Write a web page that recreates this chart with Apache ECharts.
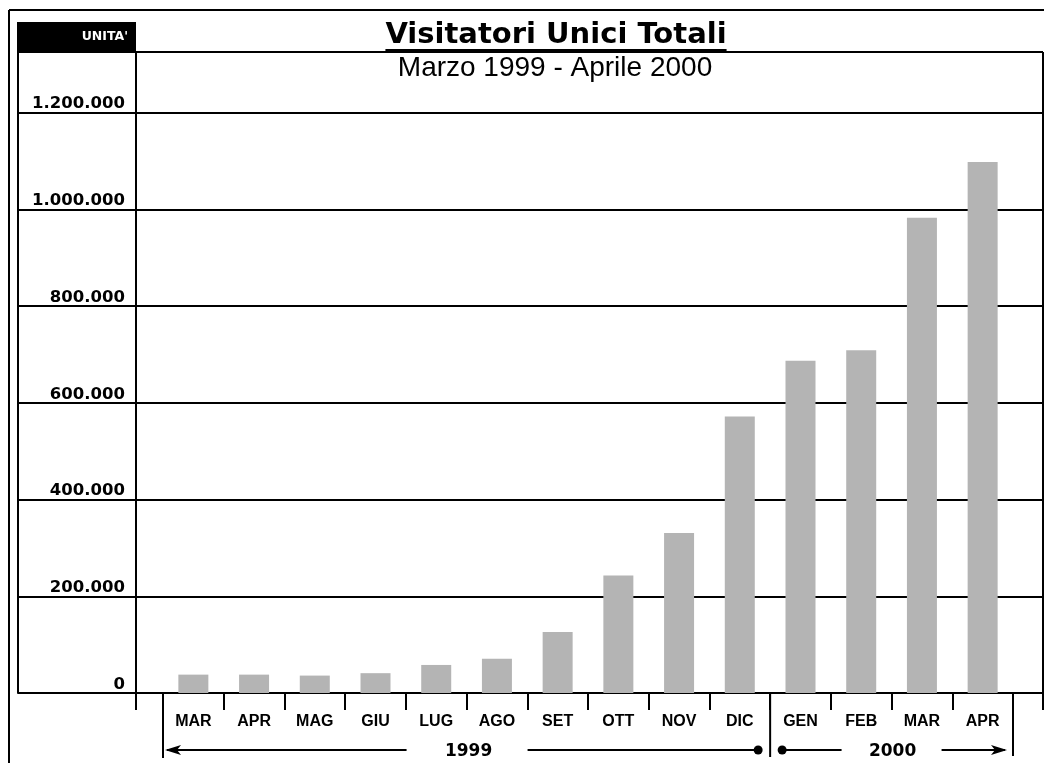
<!DOCTYPE html>
<html><head><meta charset="utf-8">
<script src="https://cdn.jsdelivr.net/npm/echarts@6/dist/echarts.min.js"></script>
<style>html,body{margin:0;padding:0;background:#fff}#c{width:1044px;height:763px}</style>
</head><body><div id="c"></div>
<script>
// ---- data ----
const months = ['MAR','APR','MAG','GIU','LUG','AGO','SET','OTT','NOV','DIC','GEN','FEB','MAR','APR'];
const visitors = [38000, 38000, 36000, 41000, 58000, 71000, 126000, 243000, 331000, 572000, 687000, 709000, 983000, 1098000];
const years = ['1999', '2000'];
const yearMonthCounts = [10, 4];
const yTickStep = 200000;
const yTop = 1325500;
const titleText = 'Visitatori Unici Totali';
const subtitleText = 'Marzo 1999 - Aprile 2000';
const unitText = "UNITA'";

function fmt(v){ return String(v).replace(/\B(?=(\d{3})+(?!\d))/g, '.'); }

const chart = echarts.init(document.getElementById('c'), null, {renderer:'canvas'});
const BLACK = '#000';
const option = {
  animation:false,
  backgroundColor:'#fff',
  grid:[
    {left:18, right:1, top:52, bottom:70},
    {left:163, right:31, top:52, bottom:70}
  ],
  xAxis:[
    {gridIndex:0, type:'value', min:0, max:1,
     axisLine:{show:true, onZero:false, lineStyle:{color:BLACK, width:2}},
     axisTick:{show:false}, axisLabel:{show:false}, splitLine:{show:false}},
    {gridIndex:1, type:'category', data:months, boundaryGap:true,
     axisLine:{show:false},
     axisTick:{show:true, interval:0, length:17, lineStyle:{color:BLACK, width:2}},
     axisLabel:{interval:0, margin:21, color:BLACK, fontFamily:'Liberation Sans', fontWeight:'bold', fontSize:16}}
  ],
  yAxis:[
    {gridIndex:0, type:'value', min:0, max:yTop, interval:yTickStep,
     axisLine:{show:false}, axisTick:{show:false},
     splitLine:{show:true, lineStyle:{color:BLACK, width:2}},
     axisLabel:{inside:true, align:'right', verticalAlign:'bottom', margin:107,
       color:BLACK, fontFamily:'DejaVu Sans', fontWeight:'bold', fontSize:16.5,
       formatter:function(v){ return (v % yTickStep === 0) ? fmt(v) : ''; }}},
    {gridIndex:1, type:'value', min:0, max:yTop, show:false}
  ],
  series:[{type:'bar', xAxisIndex:1, yAxisIndex:1, data:visitors, barWidth:30,
    itemStyle:{color:'#b4b4b4'}, z:3}]
};
chart.setOption(option);

// ---- decorations positioned from the axes ----
const c0 = chart.convertToPixel({xAxisIndex:1}, 0);
const c1 = chart.convertToPixel({xAxisIndex:1}, 1);
const bw = c1 - c0;
const xL = c0 - bw/2;
const xD = xL + yearMonthCounts[0]*bw;
const xR = xL + (yearMonthCounts[0]+yearMonthCounts[1])*bw;
const y0 = chart.convertToPixel({yAxisIndex:0}, 0);
const yT = chart.convertToPixel({yAxisIndex:0}, yTop);
const gridRight = 1043;

function measure(text, font){
  const cv = document.createElement('canvas').getContext('2d');
  cv.font = font; return cv.measureText(text).width;
}
const titleFont = 'bold 29px "DejaVu Sans"';
const tw = measure(titleText, titleFont);
const titleX = 556;

function line(x1,y1,x2,y2,w){
  return {type:'line', shape:{x1:x1,y1:y1,x2:x2,y2:y2}, style:{stroke:BLACK, lineWidth:w||2}, z:10, silent:true};
}
const ay = 750;
const m1 = (xL + xD)/2, m2 = (xD + xR)/2;
const els = [
  line(9, 10, 1044, 10),
  line(9, 10, 9, 763),
  line(18, 22, 18, y0),
  {type:'rect', shape:{x:18, y:22, width:118, height:30}, style:{fill:BLACK}, z:10},
  {type:'text', x:128, y:37, style:{text:unitText, fill:'#fff', font:'bold 12.5px "DejaVu Sans"', align:'right', verticalAlign:'middle'}, z:11},
  line(136, yT, 136, y0+17),
  line(gridRight, yT, gridRight, y0+17),
  line(xL, y0, xL, y0+65),
  line(xD, y0, xD, y0+64),
  line(xR, y0, xR, y0+63),
  // title
  {type:'text', x:titleX, y:35, style:{text:titleText, fill:BLACK, font:titleFont, align:'center', verticalAlign:'middle'}, z:11},
  {type:'rect', shape:{x:titleX - tw/2, y:49, width:tw, height:3}, style:{fill:BLACK}, z:11},
  {type:'text', x:555, y:68, style:{text:subtitleText, fill:BLACK, font:'28px "Liberation Sans"', align:'center', verticalAlign:'middle'}, z:11},
  // year 1
  line(xL+4, ay, m1-60, ay, 1.8),
  {type:'polygon', shape:{points:[[xL+2,ay],[xL+18,ay-5],[xL+14,ay],[xL+18,ay+5]]}, style:{fill:BLACK}, z:10},
  {type:'text', x:m1+2, y:ay+2, style:{text:years[0], fill:BLACK, font:'bold 17px "DejaVu Sans"', align:'center', verticalAlign:'middle'}, z:11},
  line(m1+61, ay, xD-12, ay, 1.8),
  {type:'circle', shape:{cx:xD-12, cy:ay, r:4.5}, style:{fill:BLACK}, z:10},
  // year 2
  {type:'circle', shape:{cx:xD+12, cy:ay, r:4.5}, style:{fill:BLACK}, z:10},
  line(xD+12, ay, m2-50, ay, 1.8),
  {type:'text', x:m2+1, y:ay+2, style:{text:years[1], fill:BLACK, font:'bold 17px "DejaVu Sans"', align:'center', verticalAlign:'middle'}, z:11},
  line(m2+50, ay, xR-8, ay, 1.8),
  {type:'polygon', shape:{points:[[xR-6,ay],[xR-22,ay-5],[xR-18,ay],[xR-22,ay+5]]}, style:{fill:BLACK}, z:10}
];
chart.setOption({graphic:{elements:els}});
</script>
</body></html>
